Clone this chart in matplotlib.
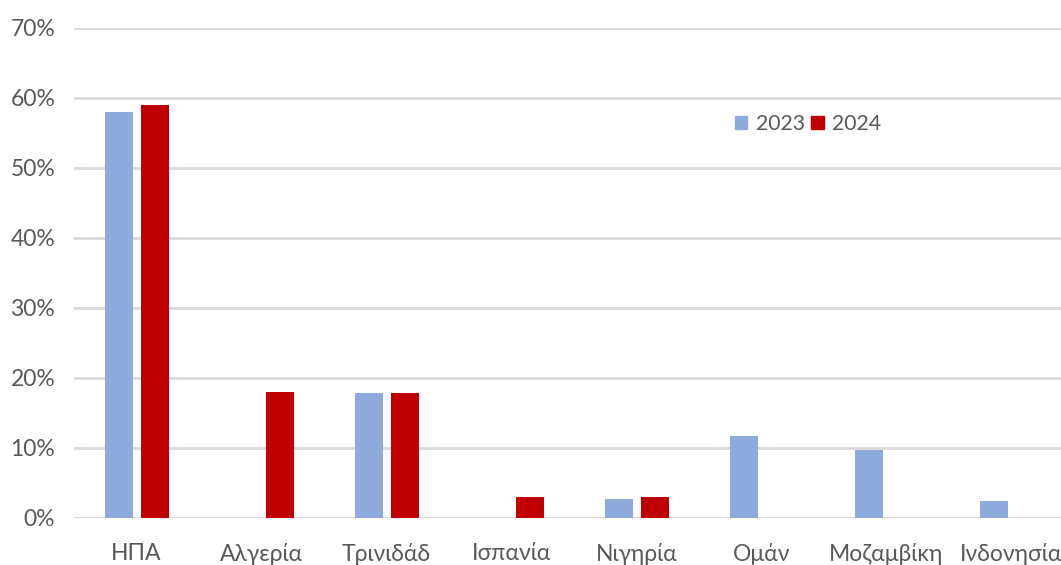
import matplotlib
matplotlib.use("Agg")
import matplotlib.pyplot as plt
import numpy as np
from matplotlib.ticker import FuncFormatter
from matplotlib.patches import Patch

countries = ["ΗΠΑ", "Αλγερία", "Τρινιδάδ", "Ισπανία", "Νιγηρία", "Ομάν", "Μοζαμβίκη", "Ινδονησία"]
share_2023 = [58.0, 0.0, 17.8, 0.0, 2.7, 11.7, 9.7, 2.4]
share_2024 = [59.0, 18.0, 17.8, 3.0, 3.0, 0.0, 0.0, 0.0]
years = ["2023", "2024"]
y_ticks = [0, 10, 20, 30, 40, 50, 60, 70]

blue = "#8FAADC"
red = "#C00000"
text_gray = "#595959"
grid_gray = "#D9D9D9"

plt.rcParams["font.family"] = ["Lato", "DejaVu Sans"]

fig = plt.figure(figsize=(10.61, 5.65), dpi=100)
ax = fig.add_axes([74 / 1061, 1 - 518 / 565, (1061 - 74) / 1061, (518 - 28) / 565])

x = np.arange(len(countries))
w = 0.224
off = 0.144
ax.bar(x - off, share_2023, width=w, color=blue, zorder=3)
ax.bar(x + off, share_2024, width=w, color=red, zorder=3)

ax.set_ylim(0, 70)
ax.set_xlim(-0.5, -0.5 + 987 / 125)
ax.set_yticks(y_ticks)
ax.yaxis.set_major_formatter(FuncFormatter(lambda v, p: f"{v:.0f}%"))
ax.set_xticks(x)
ax.set_xticklabels(countries)
ax.grid(axis="y", color=grid_gray, linewidth=2, zorder=0)
ax.tick_params(axis="both", length=0, labelsize=16.5, colors=text_gray)
ax.tick_params(axis="y", pad=13.5)
ax.tick_params(axis="x", pad=18)
for s in ax.spines.values():
    s.set_visible(False)

handles = [Patch(color=blue), Patch(color=red)]
leg = ax.legend(handles, years, loc="center", bbox_to_anchor=(808 / 1061, 1 - 124 / 565),
                bbox_transform=fig.transFigure, ncol=2, frameon=False, fontsize=15.2,
                handlelength=0.6, handleheight=0.6, handletextpad=0.4, columnspacing=0.3)
for t in leg.get_texts():
    t.set_color(text_gray)

fig.savefig("out.png", dpi=100)
